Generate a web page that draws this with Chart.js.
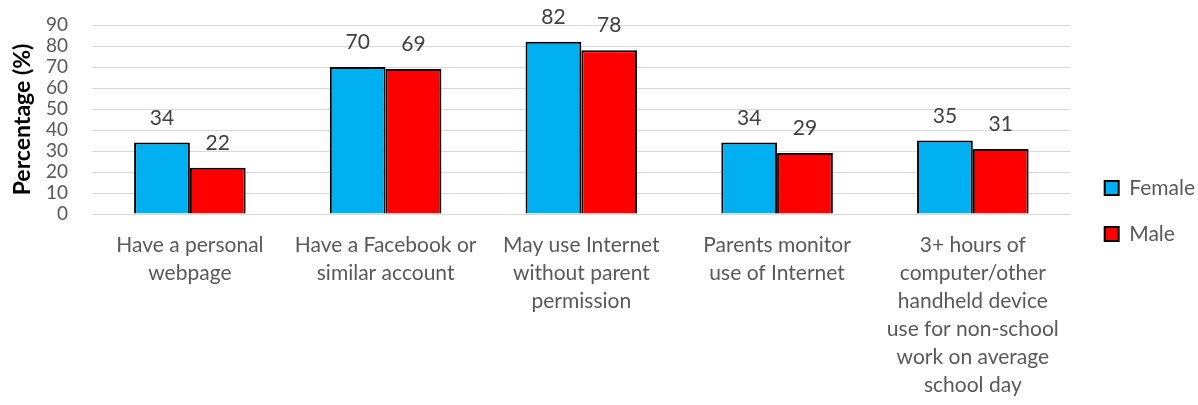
<!DOCTYPE html>
<html>
<head>
<meta charset="utf-8">
<script src="https://cdn.jsdelivr.net/npm/chart.js@4"></script>
<style>
  html, body { margin: 0; padding: 0; background: #fff; }
  #wrap { width: 1198px; height: 405px; position: relative; }
</style>
</head>
<body>
<div id="wrap"><canvas id="chart"></canvas></div>
<script>
const categories = [
    ['Have a personal', 'webpage'],
    ['Have a Facebook or', 'similar account'],
    ['May use Internet', 'without parent', 'permission'],
    ['Parents monitor', 'use of Internet'],
    ['3+ hours of', 'computer/other', 'handheld device', 'use for non-school', 'work on average', 'school day']
];
const female = [34, 70, 82, 34, 35];
const male = [22, 69, 78, 29, 31];
const yTicks = [0, 10, 20, 30, 40, 50, 60, 70, 80, 90];

const fontFamily = 'Lato, "Open Sans", sans-serif';
const ctx = document.getElementById('chart');

// value labels above each bar
const valueLabels = {
    id: 'valueLabels',
    afterDatasetsDraw(chart) {
        const c = chart.ctx;
        c.save();
        c.font = '21px ' + fontFamily;
        c.fillStyle = '#404040';
        c.textAlign = 'center';
        c.textBaseline = 'alphabetic';
        chart.data.datasets.forEach(function (ds, i) {
            chart.getDatasetMeta(i).data.forEach(function (bar, j) {
                c.fillText(ds.data[j], bar.x, bar.y - 18);
            });
        });
        c.restore();
    }
};

// leave a little gap between plot and legend
const legendGap = {
    id: 'legendGap',
    afterLayout(chart) {
        chart.legend.left += 9;
        chart.legend.right += 9;
        chart.legend.top -= 4;
        chart.legend.bottom -= 4;
    }
};

new Chart(ctx, {
    type: 'bar',
    data: {
        labels: categories,
        datasets: [
            {
                label: 'Female',
                data: female,
                backgroundColor: '#00b0f0',
                borderColor: '#000000',
                borderWidth: 2,
                borderSkipped: 'bottom'
            },
            {
                label: 'Male',
                data: male,
                backgroundColor: '#ff0000',
                borderColor: '#000000',
                borderWidth: 2,
                borderSkipped: 'bottom'
            }
        ]
    },
    options: {
        responsive: true,
        maintainAspectRatio: false,
        animation: false,
        datasets: {
            bar: { categoryPercentage: 0.57, barPercentage: 1.0 }
        },
        layout: { padding: { top: 25, right: 2, left: 0, bottom: 0 } },
        plugins: {
            legend: {
                position: 'right',
                labels: {
                    font: { family: fontFamily, size: 21 },
                    color: '#595959',
                    boxWidth: 14,
                    boxHeight: 14,
                    padding: 25
                }
            },
            tooltip: { enabled: false }
        },
        scales: {
            x: {
                afterFit(axis) {
                    axis.height = 191;
                    axis.paddingLeft = 0;
                    axis.paddingRight = 0;
                },
                grid: { display: false, drawTicks: false },
                border: { color: '#d9d9d9', width: 1 },
                ticks: {
                    font: { family: fontFamily, size: 21, lineHeight: 28 / 21 },
                    color: '#595959',
                    maxRotation: 0,
                    autoSkip: false,
                    padding: 17
                }
            },
            y: {
                min: 0,
                max: 90,
                afterBuildTicks(axis) {
                    axis.ticks = yTicks.map(function (v) { return { value: v }; });
                },
                afterFit(axis) {
                    axis.width = 92;
                    axis.paddingTop = 0;
                    axis.paddingBottom = 0;
                },
                grid: { color: '#d9d9d9', drawTicks: false },
                border: { display: false },
                ticks: {
                    autoSkip: false,
                    font: { family: fontFamily, size: 19, lineHeight: 1 },
                    color: '#595959',
                    padding: 24
                },
                title: {
                    display: true,
                    text: 'Percentage (%)',
                    font: { family: fontFamily, size: 23, weight: 'bold' },
                    color: '#000000',
                    padding: { top: 9, bottom: 0 }
                }
            }
        }
    },
    plugins: [valueLabels, legendGap]
});
</script>
</body>
</html>
